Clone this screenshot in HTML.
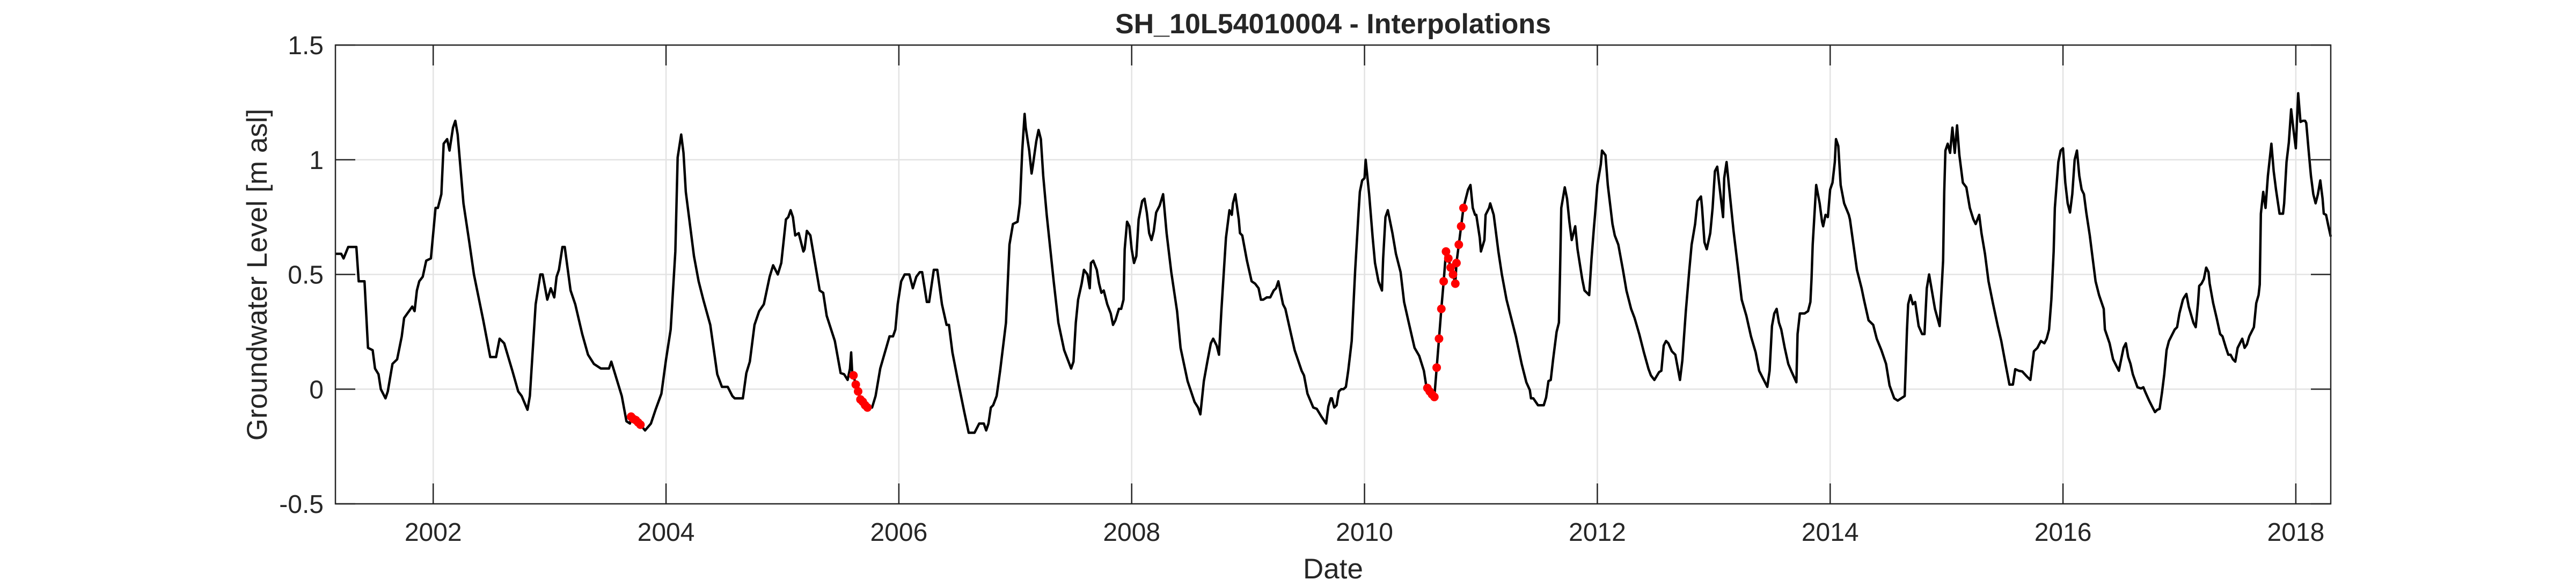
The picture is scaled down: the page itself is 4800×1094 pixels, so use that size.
<!DOCTYPE html>
<html>
<head>
<meta charset="utf-8">
<style>
html,body{margin:0;padding:0;background:#fff;}
svg{display:block;}
text{font-family:"Liberation Sans",Arial,sans-serif;fill:#262626;}
</style>
</head>
<body>
<svg id="chart" width="4800" height="1094" viewBox="0 0 4800 1094" xmlns="http://www.w3.org/2000/svg">
<rect x="0" y="0" width="4800" height="1094" fill="#fff"/>
<g id="grid"></g>
<g id="series"></g>
<g id="axes"></g>
<text x="2484" y="62" text-anchor="middle" font-size="52" font-weight="bold" fill="#000">SH_10L54010004 - Interpolations</text>
<text x="2484" y="1078" text-anchor="middle" font-size="53">Date</text>
<text transform="translate(497,512) rotate(-90)" text-anchor="middle" font-size="53">Groundwater Level [m asl]</text>
</svg>
<script>
const dates = [2001.16,2001.21,2001.23,2001.27,2001.34,2001.36,2001.41,2001.44,2001.48,2001.50,2001.53,2001.55,2001.59,2001.61,2001.65,2001.69,2001.73,2001.75,2001.82,2001.84,2001.86,2001.88,2001.91,2001.94,2001.98,2002.02,2002.04,2002.07,2002.09,2002.12,2002.14,2002.17,2002.19,2002.21,2002.26,2002.31,2002.35,2002.43,2002.49,2002.54,2002.57,2002.61,2002.68,2002.73,2002.76,2002.81,2002.83,2002.88,2002.92,2002.94,2002.98,2003.01,2003.04,2003.06,2003.08,2003.11,2003.13,2003.18,2003.22,2003.28,2003.33,2003.38,2003.44,2003.51,2003.53,2003.56,2003.62,2003.66,2003.69,
2003.82,2003.87,2003.91,2003.96,2004.00,2004.04,2004.08,2004.10,2004.13,2004.15,2004.17,2004.21,2004.24,2004.28,2004.32,2004.38,2004.44,2004.48,2004.53,2004.57,2004.59,2004.66,2004.69,2004.72,2004.76,2004.80,2004.84,2004.89,2004.92,2004.96,2004.99,2005.03,2005.05,2005.07,2005.09,2005.11,2005.14,2005.18,2005.19,2005.21,2005.24,2005.27,2005.32,2005.35,2005.38,2005.45,2005.50,2005.53,2005.56,2005.58,2005.59,2005.60,
2005.77,2005.80,2005.84,2005.92,2005.95,2005.97,2005.99,2006.02,2006.05,2006.09,2006.12,2006.15,2006.18,2006.20,2006.24,2006.26,2006.30,2006.33,2006.37,2006.41,2006.43,2006.46,2006.51,2006.56,2006.60,2006.65,2006.69,2006.73,2006.75,2006.77,2006.79,2006.81,2006.84,2006.87,2006.92,2006.95,2006.98,2007.02,2007.04,2007.06,2007.08,2007.09,2007.12,2007.14,2007.15,2007.18,2007.20,2007.22,2007.24,2007.27,2007.33,2007.37,2007.42,2007.45,2007.48,2007.50,2007.52,2007.54,2007.57,2007.59,2007.62,2007.64,2007.65,2007.67,2007.70,2007.72,2007.74,2007.76,2007.79,2007.82,2007.84,2007.86,2007.89,2007.91,2007.93,2007.94,2007.96,2007.98,2008.00,2008.02,2008.04,2008.06,2008.09,2008.11,2008.13,2008.15,2008.17,2008.19,2008.21,2008.24,2008.27,2008.30,2008.34,2008.39,2008.42,2008.48,2008.54,2008.57,2008.59,2008.62,2008.65,2008.68,2008.70,2008.73,2008.75,2008.77,2008.79,2008.81,2008.84,2008.86,2008.87,2008.89,2008.92,2008.93,2008.95,2008.99,2009.03,2009.06,2009.09,2009.11,2009.13,2009.16,2009.19,2009.22,2009.24,2009.26,2009.30,2009.32,2009.36,2009.40,2009.46,2009.48,2009.51,2009.54,2009.56,2009.59,2009.63,2009.67,2009.69,2009.71,2009.72,2009.74,2009.76,2009.78,2009.80,2009.82,2009.84,2009.86,2009.89,2009.92,2009.95,2009.96,2009.98,2010.00,2010.01,2010.04,2010.07,2010.09,2010.12,2010.15,2010.16,2010.18,2010.20,2010.24,2010.27,2010.31,2010.34,2010.38,2010.43,2010.47,2010.51,2010.53,
2010.89,2010.91,2010.93,2010.95,2010.96,2010.99,2011.00,2011.03,2011.04,2011.07,2011.08,2011.11,2011.12,2011.15,2011.18,2011.22,2011.26,2011.30,2011.35,2011.39,2011.42,2011.43,2011.45,2011.49,2011.54,2011.56,2011.58,2011.60,2011.62,2011.65,2011.67,2011.68,2011.69,2011.72,2011.74,2011.76,2011.78,2011.81,2011.83,2011.87,2011.89,2011.91,2011.93,2011.95,2011.97,2011.98,2012.00,2012.03,2012.04,2012.07,2012.09,2012.13,2012.15,2012.18,2012.22,2012.25,2012.29,2012.32,2012.36,2012.40,2012.44,2012.46,2012.49,2012.53,2012.55,2012.57,2012.59,2012.61,2012.64,2012.67,2012.71,2012.73,2012.76,2012.79,2012.81,2012.82,2012.84,2012.86,2012.89,2012.90,2012.92,2012.94,2012.97,2012.99,2013.01,2013.03,2013.05,2013.08,2013.09,2013.11,2013.13,2013.17,2013.21,2013.24,2013.28,2013.32,2013.36,2013.39,2013.42,2013.46,2013.48,2013.50,2013.52,2013.54,2013.56,2013.58,2013.61,2013.64,2013.67,2013.71,2013.72,2013.74,2013.78,2013.81,2013.83,2013.84,2013.85,2013.88,2013.91,2013.93,2013.94,2013.96,2013.98,2014.00,2014.02,2014.04,2014.05,2014.07,2014.09,2014.12,2014.16,2014.17,2014.20,2014.23,2014.27,2014.29,2014.33,2014.37,2014.40,2014.44,2014.48,2014.51,2014.55,2014.58,2014.61,2014.64,2014.66,2014.67,2014.69,2014.71,2014.73,2014.76,2014.79,2014.81,2014.83,2014.85,2014.87,2014.90,2014.94,2014.97,2014.98,2014.99,2015.01,2015.03,2015.05,2015.07,2015.09,2015.11,2015.14,2015.17,2015.20,2015.23,2015.25,2015.28,2015.30,2015.33,2015.36,2015.40,2015.44,2015.47,2015.51,2015.54,2015.57,2015.59,2015.62,2015.65,2015.69,2015.72,2015.75,2015.78,2015.81,2015.84,2015.86,2015.88,2015.90,2015.92,2015.93,2015.96,2015.98,2016.00,2016.02,2016.04,2016.06,2016.08,2016.10,2016.12,2016.14,2016.16,2016.18,2016.20,2016.23,2016.25,2016.28,2016.31,2016.35,2016.36,2016.40,2016.43,2016.45,2016.48,2016.50,2016.52,2016.54,2016.56,2016.58,2016.60,2016.62,2016.64,2016.67,2016.69,2016.71,2016.74,2016.77,2016.79,2016.81,2016.83,2016.85,2016.87,2016.89,2016.91,2016.94,2016.96,2016.98,2017.00,2017.03,2017.04,2017.06,2017.08,2017.12,2017.14,2017.16,2017.17,2017.19,2017.21,2017.23,2017.25,2017.26,2017.29,2017.32,2017.35,2017.37,2017.40,2017.42,2017.44,2017.46,2017.48,2017.50,2017.52,2017.54,2017.56,2017.58,2017.60,2017.64,2017.66,2017.68,2017.69,2017.70,2017.72,2017.74,2017.76,2017.79,2017.81,2017.83,2017.85,2017.86,2017.89,2017.90,2017.92,2017.94,2017.96,2017.98,2018.00,2018.02,2018.04,2018.06,2018.08,2018.09,2018.11,2018.13,2018.15,2018.17,2018.19,2018.21,2018.23,2018.24,2018.26,2018.28,2018.30];
const levels = [0.59,0.59,0.57,0.62,0.62,0.47,0.47,0.18,0.17,0.09,0.065,0,-0.04,-0.01,0.11,0.13,0.23,0.31,0.36,0.34,0.43,0.47,0.49,0.56,0.57,0.79,0.79,0.85,1.07,1.09,1.04,1.14,1.17,1.11,0.81,0.64,0.50,0.30,0.14,0.14,0.22,0.20,0.08,-0.01,-0.03,-0.09,-0.03,0.37,0.50,0.50,0.39,0.44,0.40,0.49,0.52,0.62,0.62,0.43,0.37,0.24,0.15,0.11,0.09,0.09,0.12,0.07,-0.03,-0.14,-0.15,
-0.18,-0.15,-0.09,-0.02,0.13,0.26,0.60,1.01,1.11,1.03,0.86,0.70,0.58,0.47,0.39,0.28,0.065,0.01,0.01,-0.03,-0.04,-0.04,0.07,0.12,0.28,0.34,0.37,0.49,0.54,0.50,0.55,0.74,0.75,0.78,0.75,0.67,0.68,0.60,0.61,0.69,0.67,0.58,0.43,0.42,0.32,0.21,0.07,0.065,0.04,0.09,0.16,0.065,
-0.08,-0.03,0.09,0.23,0.23,0.26,0.37,0.47,0.50,0.50,0.44,0.49,0.51,0.51,0.38,0.38,0.52,0.52,0.37,0.28,0.28,0.16,0.03,-0.095,-0.19,-0.19,-0.15,-0.15,-0.18,-0.15,-0.08,-0.07,-0.03,0.08,0.29,0.63,0.72,0.73,0.81,1.04,1.20,1.14,1.04,0.94,0.97,1.08,1.13,1.09,0.93,0.76,0.47,0.29,0.17,0.13,0.09,0.12,0.29,0.39,0.46,0.52,0.50,0.44,0.55,0.56,0.52,0.46,0.42,0.43,0.37,0.33,0.28,0.30,0.35,0.35,0.39,0.61,0.73,0.71,0.61,0.55,0.58,0.74,0.82,0.83,0.77,0.68,0.65,0.69,0.77,0.80,0.85,0.68,0.51,0.34,0.18,0.035,-0.056,-0.08,-0.11,0.035,0.12,0.20,0.22,0.19,0.15,0.34,0.50,0.66,0.78,0.76,0.81,0.85,0.74,0.68,0.67,0.56,0.47,0.46,0.44,0.39,0.39,0.40,0.40,0.43,0.44,0.47,0.37,0.35,0.26,0.17,0.08,0.06,-0.02,-0.056,-0.08,-0.086,-0.12,-0.15,-0.075,-0.04,-0.04,-0.08,-0.07,-0.01,0,0,0.01,0.08,0.21,0.52,0.78,0.86,0.91,0.92,1.00,0.85,0.66,0.55,0.47,0.43,0.57,0.75,0.78,0.68,0.59,0.51,0.38,0.29,0.18,0.145,0.08,0.016,
0.87,0.89,0.79,0.76,0.76,0.66,0.60,0.65,0.76,0.79,0.81,0.76,0.72,0.60,0.50,0.39,0.31,0.23,0.11,0.03,-0.004,-0.04,-0.04,-0.07,-0.07,-0.036,0.035,0.04,0.13,0.25,0.29,0.52,0.79,0.88,0.83,0.73,0.65,0.71,0.61,0.48,0.43,0.42,0.41,0.57,0.70,0.76,0.89,0.98,1.04,1.02,0.89,0.72,0.67,0.63,0.52,0.43,0.35,0.31,0.24,0.16,0.087,0.06,0.04,0.074,0.08,0.19,0.21,0.20,0.165,0.15,0.04,0.125,0.34,0.52,0.63,0.66,0.72,0.82,0.84,0.79,0.64,0.61,0.68,0.79,0.95,0.97,0.88,0.75,0.92,0.99,0.89,0.69,0.52,0.39,0.32,0.23,0.16,0.08,0.05,0.01,0.08,0.275,0.33,0.35,0.29,0.26,0.18,0.11,0.074,0.03,0.24,0.33,0.33,0.34,0.38,0.48,0.63,0.89,0.81,0.73,0.71,0.76,0.75,0.87,0.90,0.99,1.09,1.06,0.89,0.81,0.76,0.74,0.63,0.52,0.44,0.39,0.30,0.28,0.22,0.17,0.11,0.016,-0.04,-0.05,-0.04,-0.03,0.26,0.37,0.41,0.37,0.38,0.275,0.24,0.24,0.44,0.50,0.44,0.35,0.275,0.56,0.86,1.04,1.07,1.03,1.14,1.03,1.15,1.02,0.90,0.88,0.79,0.74,0.72,0.76,0.68,0.59,0.47,0.37,0.275,0.21,0.10,0.02,0.02,0.087,0.08,0.077,0.055,0.04,0.165,0.18,0.21,0.20,0.22,0.26,0.39,0.60,0.79,0.99,1.04,1.05,0.90,0.81,0.77,0.85,1.00,1.04,0.93,0.87,0.85,0.77,0.67,0.59,0.47,0.41,0.35,0.26,0.20,0.13,0.11,0.08,0.13,0.18,0.20,0.14,0.11,0.065,0.036,0.008,0.003,0.008,-0.016,-0.05,-0.08,-0.10,-0.09,-0.086,-0.016,0.065,0.17,0.21,0.24,0.26,0.27,0.33,0.39,0.40,0.415,0.36,0.29,0.27,0.375,0.45,0.46,0.48,0.53,0.51,0.46,0.375,0.31,0.24,0.23,0.18,0.15,0.15,0.13,0.12,0.18,0.20,0.22,0.18,0.195,0.23,0.27,0.375,0.41,0.456,0.765,0.86,0.79,0.93,1.07,0.95,0.87,0.80,0.765,0.765,0.81,0.99,1.075,1.22,1.13,1.05,1.29,1.165,1.17,1.17,1.16,1.04,0.93,0.85,0.81,0.85,0.91,0.83,0.765,0.76,0.71,0.665];
const interpDates = [2003.70,2003.72,2003.74,2003.76,2003.78,2005.61,2005.63,2005.65,2005.67,2005.69,2005.71,2005.73,2010.54,2010.56,2010.58,2010.60,2010.62,2010.64,2010.66,2010.68,2010.70,2010.72,2010.74,2010.76,2010.78,2010.79,2010.81,2010.83,2010.85];
const interpLevels = [-0.12,-0.13,-0.135,-0.145,-0.155,0.06,0.02,-0.01,-0.045,-0.055,-0.07,-0.08,0.005,-0.01,-0.023,-0.034,0.094,0.22,0.35,0.47,0.60,0.57,0.53,0.50,0.46,0.55,0.63,0.71,0.79];
const xTickValues = [2002,2004,2006,2008,2010,2012,2014,2016,2018];
const xTickLabels = ["2002","2004","2006","2008","2010","2012","2014","2016","2018"];
const yTickValues = [-0.5,0,0.5,1,1.5];
const yTickLabels = ["-0.5","0","0.5","1","1.5"];

const NS = "http://www.w3.org/2000/svg";
const L = 625, R = 4343, T = 84, B = 939;
const xMin = 2001.16, xMax = 2018.30, yMin = -0.5, yMax = 1.5;
function xs(v){ return L + (v - xMin) / (xMax - xMin) * (R - L); }
function ys(v){ return B - (v - yMin) / (yMax - yMin) * (B - T); }
function mk(tag, attrs, parent){
  const e = document.createElementNS(NS, tag);
  for (const k in attrs) e.setAttribute(k, attrs[k]);
  parent.appendChild(e);
  return e;
}
const grid = document.getElementById('grid');
const series = document.getElementById('series');
const axes = document.getElementById('axes');

xTickValues.forEach((v, i) => {
  const g = mk('line', {x1: xs(v), x2: xs(v), y1: T, y2: B, stroke: '#e3e3e3', 'stroke-width': 2.5}, grid);
  
  
  const t1 = mk('line', {x1: xs(v), x2: xs(v), y1: B, y2: B - 38, stroke: '#262626', 'stroke-width': 2.5}, axes);
  
  
  const t2 = mk('line', {x1: xs(v), x2: xs(v), y1: T, y2: T + 38, stroke: '#262626', 'stroke-width': 2.5}, axes);
  
  
  const lb = mk('text', {x: xs(v), y: 1008, 'text-anchor': 'middle', 'font-size': 48}, axes);
  lb.textContent = xTickLabels[i];
  
  
});
yTickValues.forEach((v, i) => {
  const g = mk('line', {x1: L, x2: R, y1: ys(v), y2: ys(v), stroke: '#e3e3e3', 'stroke-width': 2.5}, grid);
  
  
  const t1 = mk('line', {x1: L, x2: L + 37, y1: ys(v), y2: ys(v), stroke: '#262626', 'stroke-width': 2.5}, axes);
  
  
  const t2 = mk('line', {x1: R, x2: R - 37, y1: ys(v), y2: ys(v), stroke: '#262626', 'stroke-width': 2.5}, axes);
  
  
  const lb = mk('text', {x: 603, y: ys(v) + 17, 'text-anchor': 'end', 'font-size': 48}, axes);
  lb.textContent = yTickLabels[i];
  
  
});
const frame = mk('rect', {x: L, y: T, width: R - L, height: B - T, fill: 'none', stroke: '#262626', 'stroke-width': 2.5}, axes);



// merge observed + interpolated points for the black line
const pts = [];
dates.forEach((d, i) => pts.push([d, levels[i]]));
interpDates.forEach((d, i) => pts.push([d, interpLevels[i]]));
pts.sort((a, b) => a[0] - b[0]);
const dstr = pts.map((p, i) => (i ? 'L' : 'M') + xs(p[0]).toFixed(1) + ' ' + ys(p[1]).toFixed(1)).join(' ');
const line = mk('path', {d: dstr, fill: 'none', stroke: '#000', 'stroke-width': 4.5, 'stroke-linejoin': 'round'}, series);



interpDates.forEach((d, i) => {
  const c = mk('circle', {cx: xs(d), cy: ys(interpLevels[i]), r: 8, fill: '#ff0000'}, series);
  
  
});
</script>
</body>
</html>
